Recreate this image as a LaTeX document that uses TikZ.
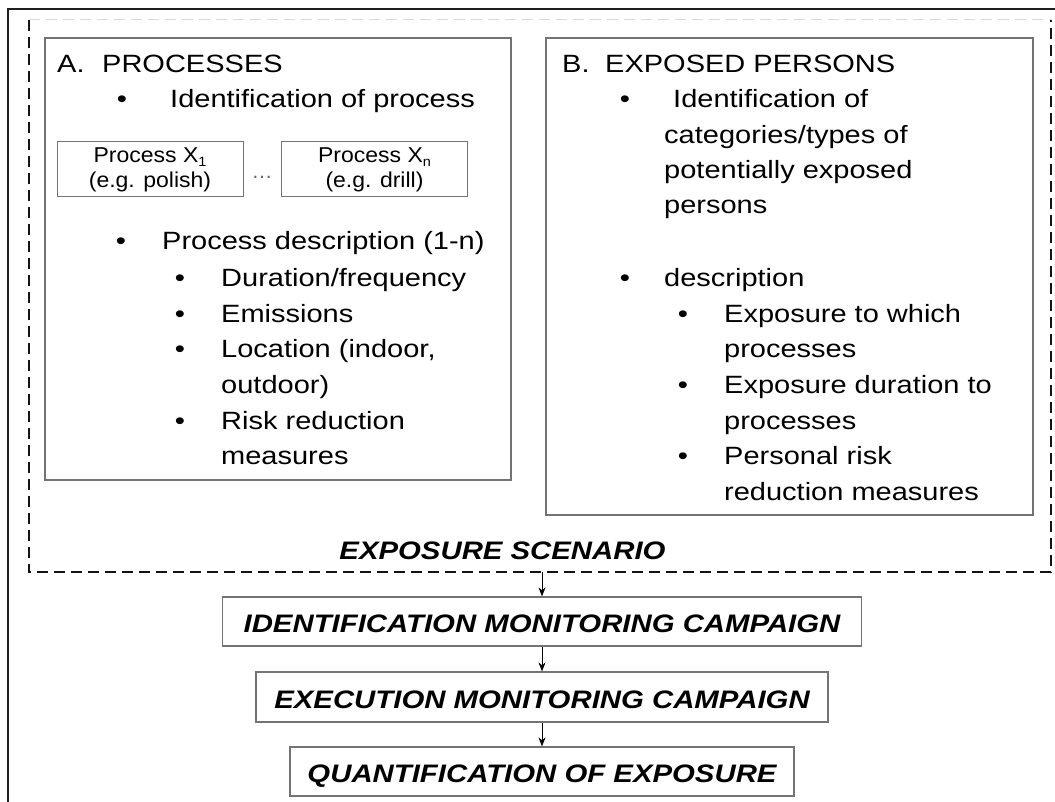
\documentclass[tikz,border=0pt]{standalone}
\usepackage{fontspec}
\setmainfont{Liberation Sans}
\newfontfamily\widesans{Liberation Sans}[FakeStretch=1.16]
\newfontfamily\procsans{Liberation Sans}[FakeStretch=1.07]
\usetikzlibrary{arrows.meta}
% lowered small index after a process name
\newcommand\procidx[1]{\raisebox{-4pt}{\fontsize{13.5}{14}\selectfont #1}}
\begin{document}
\begin{tikzpicture}[x=1pt,y=-1pt,
  line/.style={anchor=base west, inner sep=0pt, font=\widesans\fontsize{25}{30}\selectfont},
  dot/.style={anchor=base, inner sep=0pt, font=\widesans\fontsize{25}{30}\selectfont},
  panel/.style={draw=black!55, line width=1.2pt, inner sep=0pt},
  procbox/.style={draw=black!55, line width=1pt, align=center, inner sep=0pt,
    minimum width=186pt, minimum height=55pt, font=\procsans\fontsize{21.5}{25}\selectfont},
  stagebox/.style={draw=black!55, line width=1.2pt, inner sep=0pt,
    text height=22.5pt, text depth=0pt,
    font=\widesans\bfseries\itshape\fontsize{25.3}{30}\selectfont},
  scenlabel/.style={anchor=base, inner sep=0pt,
    font=\widesans\bfseries\itshape\fontsize{25.3}{30}\selectfont},
  frameline/.style={draw=black!88, line width=2pt},
  scenedge/.style={draw=black!92, line width=2pt, dash pattern=on 11pt off 6pt},
  scentop/.style={draw=black!15, line width=1pt, dash pattern=on 11pt off 6pt},
  flow/.style={-{Stealth[length=9pt,width=7pt]}, line width=0.9pt, draw=black}
]
\useasboundingbox (0,0) rectangle (1055,802);
\fill[white] (0,0) rectangle (1055,802);

% outer frame (open to the right and bottom)
\draw[frameline] (1056,9) -- (8,9) -- (8,803);

% exposure scenario area
\node[minimum width=1022pt, minimum height=552pt, inner sep=0pt] (scenario) at (540,296) {};
\draw[scentop] (scenario.north west) -- (scenario.north east);
\draw[scenedge] (scenario.north west) -- (scenario.south west)
  -- (scenario.south east) -- (scenario.north east);
\node[scenlabel] (scentitle) at (502.5,559) {EXPOSURE SCENARIO};

% panel A: processes
\node[panel, minimum width=466pt, minimum height=442pt] (panelA) at (278,259) {};
\node[line] (aLetter) at (57,73) {A.};
\node[line] (aTitle) at (102,73) {PROCESSES};
\node[dot] (aB1) at (122,108) {•};
\node[line] (aT1) at (170,108) {Identification of process};
\node[procbox] (px1) at (150,169.5) {Process X\procidx{1}\\(e.g. polish)};
\node[procbox] (pxn) at (374.5,169.5) {Process X\procidx{n}\\(e.g. drill)};
\node[anchor=base, inner sep=0pt, text=black!60, font=\fontsize{21}{25}\selectfont] (pdots) at (262,179) {…};
\node[dot] (aB2) at (121,250) {•};
\node[line] (aT2) at (162,250) {Process description (1-n)};
\node[dot] (aB21) at (180,287) {•};
\node[line] (aT21) at (221,287) {Duration/frequency};
\node[dot] (aB22) at (180,323) {•};
\node[line] (aT22) at (221,323) {Emissions};
\node[dot] (aB23) at (180,358) {•};
\node[line] (aT23) at (221,358) {Location (indoor,};
\node[line] (aT23b) at (221,393) {outdoor)};
\node[dot] (aB24) at (180,429) {•};
\node[line] (aT24) at (221,429) {Risk reduction};
\node[line] (aT24b) at (221,464) {measures};

% panel B: exposed persons
\node[panel, minimum width=487pt, minimum height=477pt] (panelB) at (789.5,276.5) {};
\node[line] (bLetter) at (562,73) {B.};
\node[line] (bTitle) at (605,73) {EXPOSED PERSONS};
\node[dot] (bB1) at (625,108) {•};
\node[line] (bT1) at (673,108) {Identification of};
\node[line] (bT1b) at (664,144) {categories/types of};
\node[line] (bT1c) at (664,179) {potentially exposed};
\node[line] (bT1d) at (664,214) {persons};
\node[dot] (bB2) at (625,287) {•};
\node[line] (bT2) at (664,287) {description};
\node[dot] (bB21) at (683,323) {•};
\node[line] (bT21) at (724,323) {Exposure to which};
\node[line] (bT21b) at (724,358) {processes};
\node[dot] (bB22) at (683,393) {•};
\node[line] (bT22) at (724,393) {Exposure duration to};
\node[line] (bT22b) at (724,429) {processes};
\node[dot] (bB23) at (683,464) {•};
\node[line] (bT23) at (724,464) {Personal risk};
\node[line] (bT23b) at (724,500) {reduction measures};

% monitoring chain
\node[stagebox, minimum width=639pt, minimum height=49pt] (idn) at (542,621.5) {IDENTIFICATION MONITORING CAMPAIGN};
\node[stagebox, minimum width=572pt, minimum height=50pt] (exe) at (542,697) {EXECUTION MONITORING CAMPAIGN};
\node[stagebox, minimum width=504pt, minimum height=49pt] (qnt) at (542,771.5) {QUANTIFICATION OF EXPOSURE};

\draw[flow] (scenario.south -| idn.north) -- (idn.north);
\draw[flow] (idn.south) -- (exe.north);
\draw[flow] (exe.south) -- (qnt.north);
\end{tikzpicture}
\end{document}
